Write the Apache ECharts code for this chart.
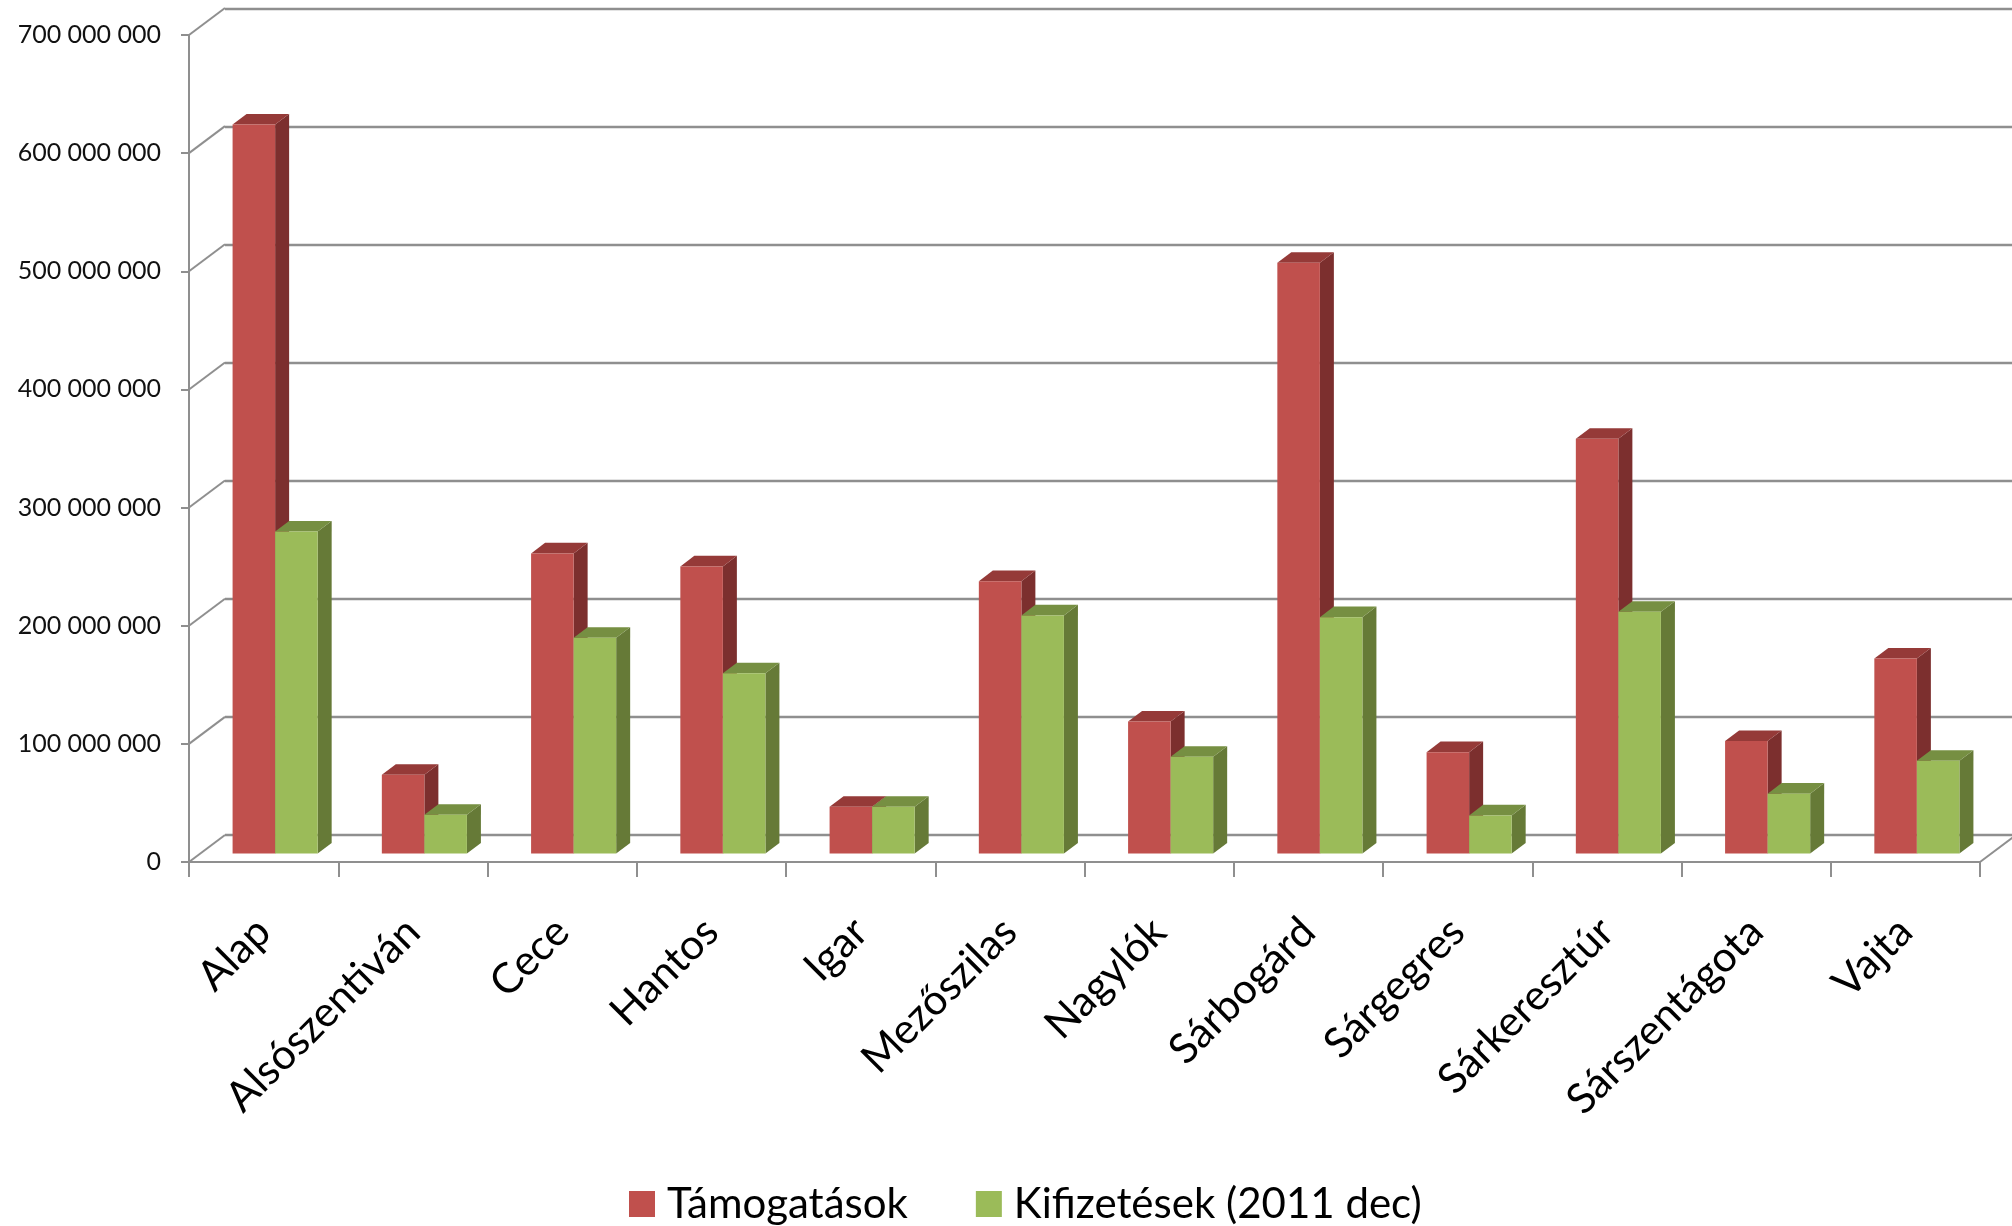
<!DOCTYPE html>
<html>
<head>
<meta charset="utf-8">
<style>html,body{margin:0;padding:0;background:#fff;overflow:hidden}#c{width:2012px;height:1226px}</style>
<script src="https://cdn.jsdelivr.net/npm/echarts@6/dist/echarts.min.js"></script>
</head>
<body>
<div id="c"></div>
<script>
const categories = ['Alap','Alsószentiván','Cece','Hantos','Igar','Mezőszilas','Nagylók','Sárbogárd','Sárgegres','Sárkeresztúr','Sárszentágota','Vajta'];
const tamogatasok = [617e6,66.6e6,254e6,243e6,39.5e6,230.5e6,111.7e6,500e6,85.8e6,351e6,95.2e6,165e6];
const kifizetesek = [272.5e6,32.7e6,182.6e6,152.5e6,39.5e6,201.5e6,81.8e6,200e6,32.2e6,204.6e6,50.6e6,78.5e6];
const yTicks = [0,100e6,200e6,300e6,400e6,500e6,600e6,700e6];
const seriesNames = ['Támogatások','Kifizetések (2011 dec)'];

const FONT = 'Lato';
const GRAY = '#8f8f8f';
const WALL_DX = 36, WALL_DY = -27;
const BAR_DX = 14, BAR_DY = -10.6;
const BAR_WIDTH_RATIO = 0.285;

function fmt(v){ return String(Math.round(v)).replace(/\B(?=(\d{3})+$)/g,' '); }

function barRenderer(side, front, sideCol, topCol){
  return function(params, api){
    const top = api.coord([api.value(0), api.value(1)]);
    const base = api.coord([api.value(0), 0]);
    const w = api.size([1,0])[0] * BAR_WIDTH_RATIO;
    const x0 = side < 0 ? top[0] - w : top[0];
    const x1 = x0 + w;
    const yt = top[1], yb = base[1];
    const poly = (pts, fill) => ({type:'polygon', shape:{points:pts}, style:{fill:fill, stroke:null}});
    return {type:'group', children:[
      poly([[x1,yt],[x1+BAR_DX,yt+BAR_DY],[x1+BAR_DX,yb+BAR_DY],[x1,yb]], sideCol),
      poly([[x0,yt],[x0+BAR_DX,yt+BAR_DY],[x1+BAR_DX,yt+BAR_DY],[x1,yt]], topCol),
      poly([[x0,yt],[x1,yt],[x1,yb],[x0,yb]], front)
    ]};
  };
}

function diagonalRenderer(params, api){
  const sys = params.coordSys;
  const y = api.coord([0, api.value(0)])[1];
  const line = x => ({type:'line', shape:{x1:x,y1:y,x2:x+WALL_DX,y2:y+WALL_DY}, style:{stroke:GRAY,lineWidth:2,fill:null}});
  const kids = [line(sys.x)];
  if (api.value(0) === 0) kids.push(line(sys.x + sys.width));
  return {type:'group', children:kids};
}

const chart = echarts.init(document.getElementById('c'), null, {renderer:'canvas'});
const yBase = {type:'value', min:0, max:700e6, interval:100e6};
chart.setOption({
  animation:false,
  backgroundColor:'#ffffff',
  textStyle:{fontFamily:FONT},
  legend:{
    data:seriesNames, left:629, top:1183, padding:0, icon:'rect', itemWidth:26, itemHeight:26,
    itemGap:68, textStyle:{fontFamily:FONT, fontSize:42, color:'#000', padding:[0,0,0,7]}, selectedMode:false
  },
  grid:[
    {left:189, top:35, width:1791, height:827},
    {left:225, top:8.7, width:1791, height:826},
    {left:200.5, top:26.5, width:1791, height:827}
  ],
  xAxis:[
    {type:'category', gridIndex:0, data:categories, boundaryGap:true,
     axisLine:{show:true,onZero:false,lineStyle:{color:GRAY,width:2}},
     axisTick:{show:true,length:15,interval:0,alignWithLabel:false,lineStyle:{color:GRAY,width:2}},
     axisLabel:{interval:0,rotate:45,margin:63,fontFamily:FONT,fontSize:42,color:'#000'}},
    {type:'category', gridIndex:1, data:categories, show:false},
    {type:'category', gridIndex:2, data:categories, show:false}
  ],
  yAxis:[
    Object.assign({},yBase,{gridIndex:0,
      axisLine:{show:true,lineStyle:{color:GRAY,width:2}},
      axisTick:{show:true,length:8,lineStyle:{color:GRAY,width:2}},
      splitLine:{show:false},
      axisLabel:{margin:28,fontFamily:FONT,fontSize:25,color:'#111',padding:[5,0,0,0],formatter:fmt}}),
    Object.assign({},yBase,{gridIndex:1,
      axisLine:{show:false},axisTick:{show:false},axisLabel:{show:false},
      splitLine:{show:true,lineStyle:{color:GRAY,width:2.4}}}),
    Object.assign({},yBase,{gridIndex:2,show:false,splitLine:{show:false}})
  ],
  series:[
    {type:'custom', name:'falak', xAxisIndex:0, yAxisIndex:0, silent:true, clip:false,
     renderItem:diagonalRenderer, encode:{y:0}, data:yTicks.map(v=>[v]), z:1},
    {type:'custom', name:seriesNames[0], xAxisIndex:2, yAxisIndex:2, clip:false,
     itemStyle:{color:'#C0504D'},
     renderItem:barRenderer(-1,'#C0504D','#7C2F2E','#953A38'),
     encode:{x:0,y:1}, data:categories.map((c,i)=>[i,tamogatasok[i]]), z:2},
    {type:'custom', name:seriesNames[1], xAxisIndex:2, yAxisIndex:2, clip:false,
     itemStyle:{color:'#9BBB59'},
     renderItem:barRenderer(1,'#9BBB59','#667A37','#768F42'),
     encode:{x:0,y:1}, data:categories.map((c,i)=>[i,kifizetesek[i]]), z:3}
  ]
});
</script>
</body>
</html>
